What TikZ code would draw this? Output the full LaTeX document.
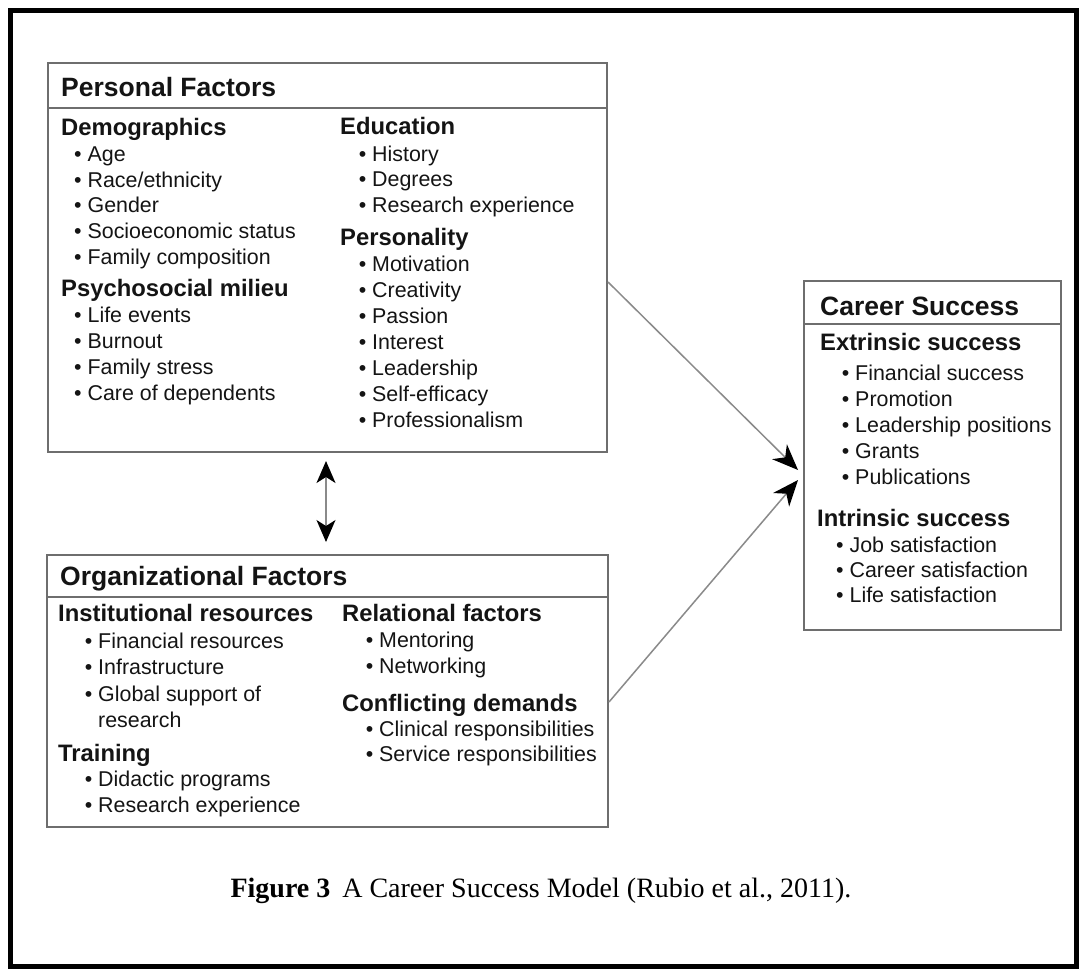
\documentclass[tikz,border=0pt]{standalone}
\usepackage{fontspec}
\setmainfont{Liberation Sans}
\newfontfamily\capfont{Liberation Serif}
\usetikzlibrary{arrows.meta,calc}
\definecolor{boxgray}{HTML}{6E6E6E}
\definecolor{arrgray}{HTML}{8A8A8A}
\definecolor{txt}{HTML}{141414}
\begin{document}
\begin{tikzpicture}[x=1pt,y=-1pt,
  box/.style={draw=boxgray,line width=2pt,inner sep=0,anchor=north west},
  rule/.style={draw=boxgray,line width=2pt},
  hdr/.style={anchor=base west,inner sep=0,text=txt,font=\fontsize{26.5}{30}\selectfont\bfseries},
  sub/.style={anchor=base west,inner sep=0,text=txt,font=\fontsize{23.8}{27}\selectfont\bfseries},
  itm/.style={anchor=base west,inner sep=0,text=txt,font=\fontsize{21.4}{25}\selectfont},
  conn/.style={draw=arrgray,line width=1.5pt,-{Stealth[length=26pt,width=21pt,inset=8pt,black]}},
  dbl/.style={draw=arrgray,line width=1.5pt,{Stealth[length=22pt,width=19pt,inset=6pt,black]}-{Stealth[length=22pt,width=19pt,inset=6pt,black]}},
]
\useasboundingbox (0,0) rectangle (1081,969);
\fill[white] (0,0) rectangle (1081,969);
\draw[line width=5pt,black] (10,10) rectangle (1076,966);

% ---------- Personal Factors ----------
\node[box,minimum width=559pt,minimum height=389pt] (pf) at (47,62) {};
\draw[rule] (47,108) -- (606,108);
\node[hdr] (pfh) at (61,96) {Personal Factors};
\node[sub] (demo) at (61,135) {Demographics};
\node[itm] (d1) at (74,161) {• Age};
\node[itm] (d2) at (74,187) {• Race/ethnicity};
\node[itm] (d3) at (74,212.8) {• Gender};
\node[itm] (d4) at (74,238.6) {• Socioeconomic status};
\node[itm] (d5) at (74,264.4) {• Family composition};
\node[sub] (psy) at (61,296.5) {Psychosocial milieu};
\node[itm] (p1) at (74,322) {• Life events};
\node[itm] (p2) at (74,348) {• Burnout};
\node[itm] (p3) at (74,374) {• Family stress};
\node[itm] (p4) at (74,400) {• Care of dependents};
\node[sub] (edu) at (340,134.5) {Education};
\node[itm] (e1) at (358.6,161) {• History};
\node[itm] (e2) at (358.6,186.8) {• Degrees};
\node[itm] (e3) at (358.6,212.6) {• Research experience};
\node[sub] (pers) at (340,245.5) {Personality};
\node[itm] (r1) at (358.6,271) {• Motivation};
\node[itm] (r2) at (358.6,297) {• Creativity};
\node[itm] (r3) at (358.6,323) {• Passion};
\node[itm] (r4) at (358.6,349) {• Interest};
\node[itm] (r5) at (358.6,375) {• Leadership};
\node[itm] (r6) at (358.6,401) {• Self-efficacy};
\node[itm] (r7) at (358.6,427) {• Professionalism};

% ---------- Organizational Factors ----------
\node[box,minimum width=561pt,minimum height=272pt] (of) at (46,554) {};
\draw[rule] (46,597) -- (607,597);
\node[hdr] (ofh) at (60,585.5) {Organizational Factors};
\node[sub] (inst) at (58,621.5) {Institutional resources};
\node[itm] (i1) at (84.6,648.7) {• Financial resources};
\node[itm] (i2) at (84.6,674.7) {• Infrastructure};
\node[itm] (i3) at (84.6,701) {• Global support of};
\node[itm] (i4) at (98,727) {research};
\node[sub] (trn) at (58,761.5) {Training};
\node[itm] (t1) at (84.6,786.7) {• Didactic programs};
\node[itm] (t2) at (84.6,812.7) {• Research experience};
\node[sub] (rel) at (342,621.5) {Relational factors};
\node[itm] (m1) at (365.6,647.7) {• Mentoring};
\node[itm] (m2) at (365.6,673.7) {• Networking};
\node[sub] (conf) at (342,711.5) {Conflicting demands};
\node[itm] (c1) at (365.6,736.7) {• Clinical responsibilities};
\node[itm] (c2) at (365.6,761.7) {• Service responsibilities};

% ---------- Career Success ----------
\node[box,minimum width=257pt,minimum height=349pt] (cs) at (803,280) {};
\draw[rule] (803,324) -- (1060,324);
\node[hdr] (csh) at (820,315) {Career Success};
\node[sub] (ext) at (820,350.5) {Extrinsic success};
\node[itm] (x1) at (841.6,380) {• Financial success};
\node[itm] (x2) at (841.6,406) {• Promotion};
\node[itm] (x3) at (841.6,432) {• Leadership positions};
\node[itm] (x4) at (841.6,458) {• Grants};
\node[itm] (x5) at (841.6,484) {• Publications};
\node[sub] (intr) at (817,526.5) {Intrinsic success};
\node[itm] (n1) at (836,552) {• Job satisfaction};
\node[itm] (n2) at (836,577) {• Career satisfaction};
\node[itm] (n3) at (836,602) {• Life satisfaction};

% ---------- Connectors ----------
\coordinate (pfout) at ([yshift=-220pt]pf.north east);
\coordinate (ofout) at ([yshift=-148pt]of.north east);
\coordinate (csin1) at ([xshift=-5pt,yshift=-190pt]cs.north west);
\coordinate (csin2) at ([xshift=-5pt,yshift=-200pt]cs.north west);
\draw[conn] (pfout) -- (csin1);
\draw[conn] (ofout) -- (csin2);
\draw[dbl] ([xshift=279pt,yshift=-8pt]pf.south west) -- ([xshift=280pt,yshift=12pt]of.north west);

% ---------- Caption ----------
\node[anchor=base,inner sep=0,text=black,font=\capfont\fontsize{28}{32}\selectfont] (cap) at (541,897)
  {\textbf{Figure 3}\hspace{12pt}A Career Success Model (Rubio et al., 2011).};
\end{tikzpicture}
\end{document}
